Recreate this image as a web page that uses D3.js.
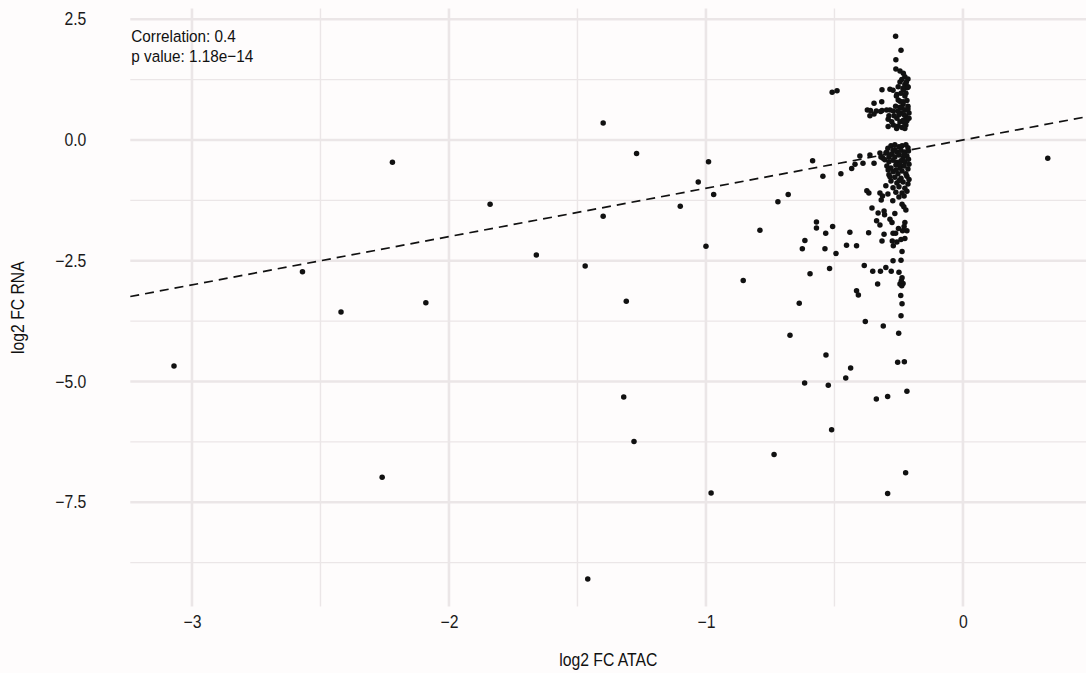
<!DOCTYPE html>
<html>
<head>
<meta charset="utf-8">
<script src="https://cdn.jsdelivr.net/npm/d3@7"></script>
<style>
  html, body { margin: 0; padding: 0; background: #fefcfc; }
  svg { display: block; font-family: "Liberation Sans", Arial, sans-serif; }
</style>
</head>
<body>
<svg id="chart" width="1086" height="673"></svg>
<script>
// ---- data (log2 FC ATAC, log2 FC RNA) ----
const outerPoints = [
  [-3.07,-4.68],[-2.57,-2.73],[-2.42,-3.56],[-2.26,-6.98],[-2.22,-0.46],[-2.09,-3.37],
  [-1.84,-1.33],[-1.66,-2.38],[-1.47,-2.61],[-1.46,-9.09],[-1.40,0.35],[-1.40,-1.58],
  [-1.31,-3.34],[-1.32,-5.32],[-1.27,-0.28],[-1.28,-6.24],[-1.10,-1.37],[-0.99,-0.45],
  [-1.03,-0.87],[-0.97,-1.13],[-1.00,-2.20],[-0.98,-7.31],[-0.72,-1.28],[-0.68,-1.13],
  [-0.79,-1.87],[-0.615,-2.08],[-0.625,-2.25],[-0.855,-2.91],[-0.595,-2.77],[-0.637,-3.38],
  [-0.673,-4.04],[-0.735,-6.51],[0.33,-0.38]
];
const midPoints = [
  [-0.585,-0.43],[-0.545,-0.75],[-0.475,-0.70],[-0.433,-0.59],[-0.57,-1.70],[-0.57,-1.82],
  [-0.534,-1.93],[-0.507,-1.79],[-0.44,-1.91],[-0.537,-2.25],[-0.453,-2.18],[-0.414,-2.19],
  [-0.494,-2.35],[-0.519,-2.66],[-0.414,-3.12],[-0.407,-3.21],[-0.533,-4.45],[-0.437,-4.72],
  [-0.456,-4.93],[-0.616,-5.03],[-0.524,-5.08],[-0.511,-6.00],[-0.509,0.99],[-0.49,1.02]
];
const columnLow = [
  [-0.254,-4.60],[-0.228,-4.59],[-0.337,-5.36],[-0.293,-5.31],[-0.218,-5.20],[-0.223,-6.89],[-0.293,-7.32],
  [-0.354,-1.41],[-0.33,-1.51],[-0.336,-1.67],[-0.367,-1.92],[-0.384,-2.60],[-0.351,-2.72],[-0.332,-2.98],
  [-0.38,-3.76],[-0.31,-3.85],[-0.25,-4.00],[-0.241,-3.64],[-0.237,-3.39],[-0.242,-3.22],[-0.245,-2.98],
  [-0.233,-2.97],[-0.238,-3.02],[-0.24,-2.92],[-0.237,-2.85],[-0.249,-2.74],[-0.279,-2.72],[-0.300,-2.64],
  [-0.321,-2.72],[-0.272,-2.50],[-0.241,-2.49],[-0.237,-2.31],[-0.271,-2.19],[-0.257,-2.11],[-0.275,-2.09],
  [-0.315,-2.09],[-0.241,-2.06],[-0.226,-2.04],[-0.272,-1.93],[-0.262,-1.93],[-0.307,-1.95],[-0.218,-1.88],
  [-0.235,-1.88],[-0.251,-1.83],[-0.323,-1.76],[-0.276,-1.71],[-0.284,-1.64],[-0.226,-1.71],[-0.229,-1.79],
  [-0.307,-1.47],[-0.305,-1.55],[-0.265,-1.52],[-0.237,-1.33],[-0.230,-1.38],[-0.222,-1.45],[-0.318,-1.24],
  [-0.273,-1.26]
];
const columnHigh = [
  [-0.262,2.15],[-0.241,1.86],[-0.261,1.66],[-0.261,1.47],[-0.245,1.43],[-0.232,1.38],[-0.226,1.31],
  [-0.214,1.26],[-0.245,1.20],[-0.226,1.15],[-0.218,1.08],[-0.232,1.04],[-0.214,1.10],[-0.315,1.04],
  [-0.284,1.05],[-0.272,1.03],[-0.252,1.10],[-0.233,1.07],[-0.214,1.09],[-0.257,0.94],[-0.241,0.97],
  [-0.226,0.91],[-0.259,0.91],[-0.252,0.83],[-0.222,0.97],[-0.346,0.76],[-0.316,0.79],[-0.372,0.62],
  [-0.360,0.61],[-0.337,0.60],[-0.315,0.61],[-0.297,0.62],[-0.284,0.62],[-0.271,0.60],[-0.362,0.50],
  [-0.346,0.54],[-0.320,0.59],[-0.288,0.50],[-0.291,0.43],[-0.277,0.38],[-0.257,0.45],[-0.245,0.38],
  [-0.232,0.41],[-0.222,0.31],[-0.252,0.29],[-0.271,0.31],[-0.291,0.28],[-0.258,0.24],[-0.237,0.26],
  [-0.226,0.24],[-0.245,0.80],[-0.233,0.74],[-0.218,0.82],[-0.214,0.70],[-0.226,0.62],[-0.210,0.56],
  [-0.241,0.56],[-0.222,0.48],[-0.237,0.66],[-0.214,0.64],[-0.229,0.52],[-0.245,0.68],[-0.218,0.40],
  [-0.249,0.52],[-0.233,0.79],[-0.229,0.36],[-0.210,0.45],[-0.262,0.70],[-0.253,0.60],[-0.268,0.50],
  [-0.220,1.20],[-0.238,1.25]
];
const columnMid = [
  [-0.401,-0.33],[-0.389,-0.48],[-0.362,-0.31],[-0.346,-0.48],[-0.323,-0.27],[-0.311,-0.38],[-0.420,-0.50],
  [-0.374,-1.05],[-0.366,-1.10],[-0.323,-1.10],[-0.313,-1.16],[-0.300,-0.27],[-0.288,-0.35],[-0.276,-0.29],
  [-0.319,-0.35],[-0.292,-0.17],[-0.280,-0.12],[-0.265,-0.10],[-0.249,-0.14],[-0.237,-0.12],[-0.222,-0.10],
  [-0.214,-0.16],[-0.296,-0.25],[-0.272,-0.21],[-0.257,-0.25],[-0.241,-0.21],[-0.226,-0.25],[-0.212,-0.23],
  [-0.284,-0.31],[-0.265,-0.35],[-0.249,-0.31],[-0.233,-0.37],[-0.218,-0.33],[-0.304,-0.41],[-0.288,-0.45],
  [-0.272,-0.42],[-0.257,-0.46],[-0.241,-0.43],[-0.226,-0.45],[-0.212,-0.40],[-0.296,-0.54],[-0.280,-0.58],
  [-0.261,-0.52],[-0.245,-0.58],[-0.229,-0.54],[-0.214,-0.60],[-0.272,-0.66],[-0.253,-0.70],[-0.237,-0.64],
  [-0.222,-0.70],[-0.265,-0.77],[-0.241,-0.79],[-0.218,-0.75],[-0.288,-0.72],[-0.280,-0.85],[-0.257,-0.89],
  [-0.233,-0.87],[-0.214,-0.91],[-0.249,-0.97],[-0.226,-1.00],[-0.272,-0.99],[-0.261,-1.08],[-0.237,-1.10],
  [-0.218,-1.06],[-0.249,-1.18],[-0.229,-1.16],[-0.292,-1.12],[-0.291,-0.62],[-0.284,-0.76],[-0.300,-0.95],
  [-0.210,-0.50],[-0.210,-0.82],[-0.265,-0.20],[-0.245,-0.50],[-0.230,-0.30],[-0.260,-0.62],[-0.248,-0.84]
];
// regression line (intercept, slope)
const fitIntercept = 0.0;
const fitSlope = 1.0;
const xMajorTicks = [-3, -2, -1, 0];
const xMinorTicks = [-2.5, -1.5, -0.5];
const yMajorTicks = [2.5, 0, -2.5, -5, -7.5];
const yMinorTicks = [1.25, -1.25, -3.75, -6.25, -8.75];
const xDomain = [-3.24, 0.48];
const yDomain = [-9.66, 2.72];
const annotation = ["Correlation: 0.4", "p value: 1.18e\u221214"];
const xTitle = "log2 FC ATAC";
const yTitle = "log2 FC RNA";

// ---- drawing ----
const svg = d3.select("#chart");
const W = 1086, H = 673;
const panel = { left: 130.3, right: 1086.3, top: 8.6, bottom: 606.6 };
const FS = 17.5, SX = 0.9;   // condensed text look

svg.append("rect").attr("width", W).attr("height", H).attr("fill", "#fefcfc");

const x = d3.scaleLinear().domain(xDomain).range([panel.left, panel.right]);
const y = d3.scaleLinear().domain(yDomain).range([panel.bottom, panel.top]);

const grid = svg.append("g");
const gridColor = "#ebe6e7";
grid.selectAll(".ymin").data(yMinorTicks).join("line")
  .attr("x1", panel.left).attr("x2", panel.right)
  .attr("y1", d => y(d)).attr("y2", d => y(d))
  .attr("stroke", gridColor).attr("stroke-width", 1.4);
grid.selectAll(".xmin").data(xMinorTicks).join("line")
  .attr("y1", panel.top).attr("y2", panel.bottom)
  .attr("x1", d => x(d)).attr("x2", d => x(d))
  .attr("stroke", gridColor).attr("stroke-width", 1.4);
grid.selectAll(".ymaj").data(yMajorTicks).join("line")
  .attr("x1", panel.left).attr("x2", panel.right)
  .attr("y1", d => y(d)).attr("y2", d => y(d))
  .attr("stroke", gridColor).attr("stroke-width", 2.6);
grid.selectAll(".xmaj").data(xMajorTicks).join("line")
  .attr("y1", panel.top).attr("y2", panel.bottom)
  .attr("x1", d => x(d)).attr("x2", d => x(d))
  .attr("stroke", gridColor).attr("stroke-width", 2.6);

// axes (labels only, ggplot minimal style)
const fmtY = d => d3.format(".1f")(d).replace("-", "\u2212");
const fmtX = d => d3.format("d")(d).replace("-", "\u2212");

const yAxis = d3.axisLeft(y).tickValues(yMajorTicks).tickFormat(fmtY).tickSize(0).tickPadding(0);
const yg = svg.append("g").attr("transform", `translate(${panel.left - 44},0)`).call(yAxis);
yg.select(".domain").remove();
yg.selectAll("text").attr("font-size", FS).attr("fill", "#1a1a1a")
  .attr("font-family", "Liberation Sans, Arial, sans-serif")
  .attr("transform", `scale(${SX},1)`);

const xAxis = d3.axisBottom(x).tickValues(xMajorTicks).tickFormat(fmtX).tickSize(0).tickPadding(0);
const xg = svg.append("g").attr("transform", `translate(0,${panel.bottom + 9})`).call(xAxis);
xg.select(".domain").remove();
xg.selectAll("text").attr("font-size", FS).attr("fill", "#1a1a1a")
  .attr("font-family", "Liberation Sans, Arial, sans-serif")
  .attr("transform", `scale(${SX},1)`);

// regression line
const lineGen = d3.line().x(d => x(d)).y(d => y(fitIntercept + fitSlope * d));
svg.append("path").datum(xDomain)
  .attr("d", lineGen)
  .attr("fill", "none").attr("stroke", "#111").attr("stroke-width", 1.7)
  .attr("stroke-dasharray", "9,6");

// points
const allPoints = [].concat(outerPoints, midPoints, columnLow, columnHigh, columnMid);
svg.append("g").selectAll("circle").data(allPoints).join("circle")
  .attr("cx", d => x(d[0])).attr("cy", d => y(d[1]))
  .attr("r", 2.75).attr("fill", "#111");

// annotation
svg.append("g").selectAll("text").data(annotation).join("text")
  .attr("transform", (d, i) => `translate(${panel.left + 1},${42 + i * 20}) scale(${SX},1)`)
  .attr("font-size", FS - 0.5).attr("fill", "#111").text(d => d);

// axis titles
svg.append("text")
  .attr("transform", `translate(${(panel.left + panel.right) / 2},666) scale(${SX},1)`)
  .attr("text-anchor", "middle").attr("font-size", FS).attr("fill", "#111").text(xTitle);
svg.append("text")
  .attr("transform", `translate(24,${(panel.top + panel.bottom) / 2}) rotate(-90) scale(${SX},1)`)
  .attr("text-anchor", "middle").attr("font-size", FS).attr("fill", "#111").text(yTitle);
</script>
</body>
</html>
